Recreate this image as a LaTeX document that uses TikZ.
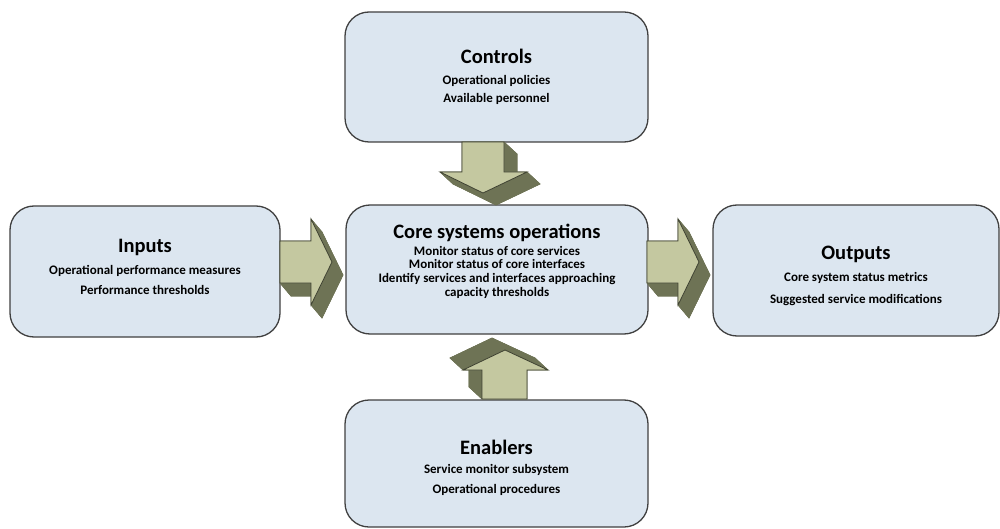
\documentclass[tikz,border=0pt]{standalone}
\usepackage{fontspec}
\setmainfont{Carlito}
\usetikzlibrary{calc}

\definecolor{boxfill}{HTML}{DCE6F0}
\definecolor{boxline}{HTML}{404040}
\definecolor{arrowlight}{HTML}{C4C8A0}
\definecolor{arrowdark}{HTML}{6E7355}
\definecolor{arrowline}{HTML}{3F4232}

\tikzset{
  box/.style={draw=boxline, line width=1.3pt, fill=boxfill, rounded corners=24pt},
  title/.style={font=\fontsize{20.5}{22}\selectfont\bfseries, anchor=base, inner sep=0pt},
  sub/.style={font=\fontsize{13}{15}\selectfont\bfseries, anchor=base, inner sep=0pt},
  arrowface/.style={fill=arrowlight, draw=arrowline, line width=0.8pt, line join=miter},
  arrowside/.style={fill=arrowdark, draw=arrowdark, line width=0.6pt, line join=round}
}

% 3-D block arrow: seven outline points of the front face and the extrusion vector
\newcommand\blockarrow[8]{%
  \coordinate (p1) at #1; \coordinate (p2) at #2; \coordinate (p3) at #3;
  \coordinate (p4) at #4; \coordinate (p5) at #5; \coordinate (p6) at #6;
  \coordinate (p7) at #7; \coordinate (ev) at #8;
  \fill[arrowside] ($(p1)+(ev)$) -- ($(p2)+(ev)$) -- ($(p3)+(ev)$) -- ($(p4)+(ev)$)
    -- ($(p5)+(ev)$) -- ($(p6)+(ev)$) -- ($(p7)+(ev)$) -- cycle;
  \foreach \ia/\ib in {1/2,2/3,3/4,4/5,5/6,6/7,7/1}
    \filldraw[arrowside] (p\ia) -- (p\ib) -- ($(p\ib)+(ev)$) -- ($(p\ia)+(ev)$) -- cycle;
  \filldraw[arrowface] (p1) -- (p2) -- (p3) -- (p4) -- (p5) -- (p6) -- (p7) -- cycle;
}

\begin{document}
\begin{tikzpicture}[x=1pt, y=-1pt]
\useasboundingbox (0,0) rectangle (1000,529);

% boxes
\draw[box] (345,12) rectangle (648,142);
\draw[box] (10,206) rectangle (280,337);
\draw[box] (346,205) rectangle (648,334);
\draw[box] (713,205) rectangle (999,336);
\draw[box] (345,400) rectangle (648,527);

% texts
\node[title] (ctl-t)  at (496.5,64)  {Controls};
\node[sub]   (ctl-a)  at (496.5,85)  {Operational policies};
\node[sub]   (ctl-b)  at (496.5,103) {Available personnel};

\node[title] (in-t)   at (145,252) {Inputs};
\node[sub]   (in-a)   at (145,274) {Operational performance measures};
\node[sub]   (in-b)   at (145,294) {Performance thresholds};

\node[title] (core-t) at (497,238) {Core systems operations};
\node[sub]   (core-a) at (497,255) {Monitor status of core services};
\node[sub]   (core-b) at (497,268) {Monitor status of core interfaces};
\node[sub]   (core-c) at (497,282) {Identify services and interfaces approaching};
\node[sub]   (core-d) at (497,296) {capacity thresholds};

\node[title] (out-t)  at (856,259) {Outputs};
\node[sub]   (out-a)  at (856,281) {Core system status metrics};
\node[sub]   (out-b)  at (856,303) {Suggested service modifications};

\node[title] (en-t)   at (496.5,454) {Enablers};
\node[sub]   (en-a)   at (496.5,473) {Service monitor subsystem};
\node[sub]   (en-b)   at (496.5,493) {Operational procedures};

% block arrows
\blockarrow{(280,241)}{(311,241)}{(311,219)}{(332,262)}{(311,305)}{(311,283)}{(280,283)}{(11,13)}
\blockarrow{(647,241)}{(678,241)}{(678,219)}{(699,262)}{(678,305)}{(678,283)}{(647,283)}{(11,13)}
\blockarrow{(462,142)}{(504,142)}{(504,172)}{(527,172)}{(483,193)}{(440,172)}{(462,172)}{(13,12)}
\blockarrow{(482,399)}{(482,370)}{(463,370)}{(505,350)}{(548,370)}{(527,370)}{(527,399)}{(-13,-12)}
\end{tikzpicture}
\end{document}
